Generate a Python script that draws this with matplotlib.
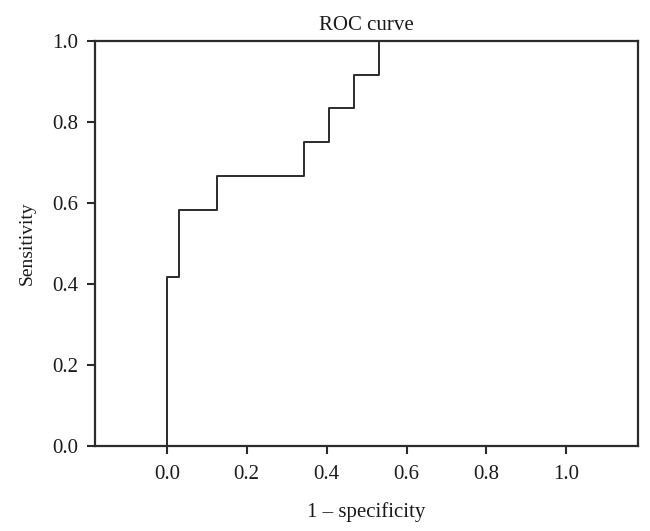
import matplotlib
matplotlib.use("Agg")
import matplotlib.pyplot as plt

# ROC step points (1 - specificity, sensitivity)
fpr = [0.0, 0.0, 0.03125, 0.03125, 0.125, 0.125, 0.34375, 0.34375, 0.40625, 0.40625,
       0.46875, 0.46875, 0.53125, 0.53125, 1.0]
tpr = [0.0, 0.4167, 0.4167, 0.5833, 0.5833, 0.6667, 0.6667, 0.75, 0.75, 0.8333,
       0.8333, 0.9167, 0.9167, 1.0, 1.0]
xticks = [0.0, 0.2, 0.4, 0.6, 0.8, 1.0]
yticks = [0.0, 0.2, 0.4, 0.6, 0.8, 1.0]

plt.rcParams['font.family'] = ['Liberation Serif', 'DejaVu Serif']
col = '#2b2b2b'
txt = '#1a1a1a'

fig = plt.figure(figsize=(6.5, 5.31), dpi=100)
ax = fig.add_axes([0.146, 0.16, 0.836, 0.763])
ax.plot(fpr, tpr, color=col, linewidth=1.4)

ax.set_xlim(-0.18, 1.18)
ax.set_ylim(0, 1)
ax.set_xticks(xticks)
ax.set_yticks(yticks)
ax.set_xticklabels(['%.1f' % v for v in xticks])
ax.set_yticklabels(['%.1f' % v for v in yticks])
ax.tick_params(direction='out', length=6, width=1.5, color=col, labelsize=15,
               labelcolor=txt, pad=6)
ax.tick_params(axis='x', pad=8)
for s in ax.spines.values():
    s.set_linewidth(1.6)
    s.set_color(col)

ax.set_xlabel('1 \u2013 specificity', fontsize=15, labelpad=13, color=txt)
ax.set_ylabel('Sensitivity', fontsize=14, labelpad=12, color=txt)
ax.set_title('ROC curve', fontsize=15, pad=8, color=txt)

fig.savefig('out.png', dpi=100)
